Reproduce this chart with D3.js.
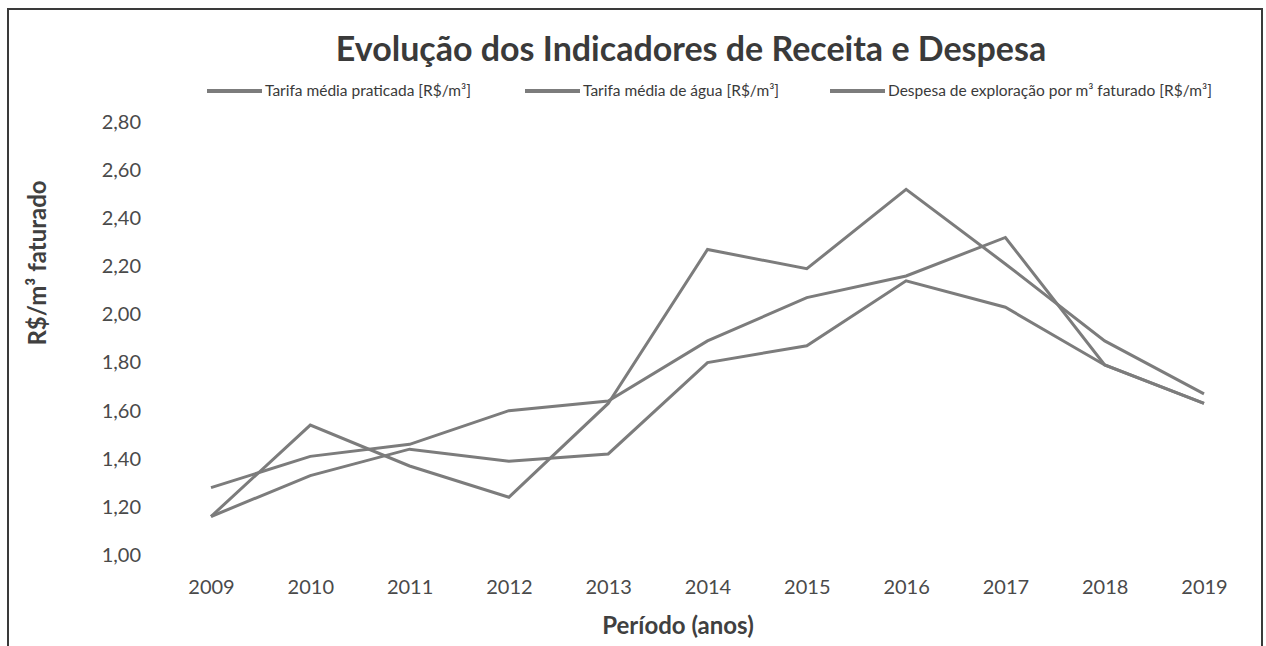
<!DOCTYPE html>
<html>
<head>
    <meta charset="utf-8" />
    <title>Evolução dos Indicadores de Receita e Despesa</title>
    <script type="text/javascript" src="https://d3js.org/d3.v7.min.js"></script>
    <style>
        body { margin: 0; background: #fff; }
        svg { display: block; font-family: Lato, "Open Sans", sans-serif; }
        .line { fill: none; stroke: #7c7c7c; stroke-width: 3px; stroke-linejoin: miter; }
        .tick text { fill: #4a4a4a; font-size: 20px; font-family: Lato, sans-serif; }
    </style>
</head>
<body>
<script type="text/javascript">
    // data
    var years = ["2009", "2010", "2011", "2012", "2013", "2014", "2015", "2016", "2017", "2018", "2019"];
    var tarifaPraticada = [1.16, 1.33, 1.44, 1.39, 1.42, 1.80, 1.87, 2.14, 2.03, 1.79, 1.63];
    var tarifaAgua = [1.28, 1.41, 1.46, 1.60, 1.64, 1.89, 2.07, 2.16, 2.32, 1.79, 1.63];
    var despesa = [1.16, 1.54, 1.37, 1.24, 1.63, 2.27, 2.19, 2.52, 2.21, 1.89, 1.67];
    var yTicks = [1.0, 1.2, 1.4, 1.6, 1.8, 2.0, 2.2, 2.4, 2.6, 2.8];
    var seriesNames = ["Tarifa média praticada [R$/m³]", "Tarifa média de água [R$/m³]", "Despesa de exploração por m³ faturado [R$/m³]"];
    var seriesValues = [tarifaPraticada, tarifaAgua, despesa];

    var width = 1266, height = 646;

    var svg = d3.select("body").append("svg")
        .attr("width", width)
        .attr("height", height);

    // outer frame (bottom edge is cut off in the original)
    svg.append("rect")
        .attr("x", 8).attr("y", 9)
        .attr("width", 1254).attr("height", 700)
        .attr("fill", "none")
        .attr("stroke", "#3a3a3a")
        .attr("stroke-width", 2);

    var x = d3.scalePoint().domain(years).range([211, 1204]);
    var y = d3.scaleLinear().domain([1.0, 2.8]).range([555, 122]);

    var fmt = function(d) { return d3.format(".2f")(d).replace(".", ","); };

    // y axis, labels only
    var yAxis = svg.append("g")
        .attr("transform", "translate(141,0)")
        .call(d3.axisLeft(y).tickValues(yTicks).tickFormat(fmt).tickSize(0).tickPadding(0));
    yAxis.select(".domain").remove();
    yAxis.attr("font-family", null).attr("font-size", null);

    // x axis, labels only
    var xAxis = svg.append("g")
        .attr("transform", "translate(0,572)")
        .call(d3.axisBottom(x).tickSize(0).tickPadding(8));
    xAxis.select(".domain").remove();
    xAxis.attr("font-family", null).attr("font-size", null);

    var line = d3.line()
        .x(function(d, i) { return x(years[i]); })
        .y(function(d) { return y(d); });

    svg.selectAll(".line")
        .data(seriesValues)
        .enter().append("path")
        .attr("class", "line")
        .attr("d", line);

    // title
    svg.append("text")
        .attr("x", 691).attr("y", 61)
        .attr("text-anchor", "middle")
        .attr("font-size", 34)
        .attr("font-weight", "bold")
        .attr("fill", "#3a3a3a")
        .text("Evolução dos Indicadores de Receita e Despesa");

    // legend
    var legendX = [207, 525, 830];
    var legend = svg.selectAll(".legend")
        .data(seriesNames)
        .enter().append("g")
        .attr("class", "legend")
        .attr("transform", function(d, i) { return "translate(" + legendX[i] + ",91)"; });
    legend.append("line")
        .attr("x1", 0).attr("x2", 55)
        .attr("stroke", "#7c7c7c")
        .attr("stroke-width", 4);
    legend.append("text")
        .attr("x", 58).attr("y", 5)
        .attr("font-size", 15.5)
        .attr("fill", "#3a3a3a")
        .text(function(d) { return d; });

    // axis titles
    svg.append("text")
        .attr("x", 678).attr("y", 634)
        .attr("text-anchor", "middle")
        .attr("font-size", 24)
        .attr("font-weight", "bold")
        .attr("fill", "#404040")
        .text("Período (anos)");

    svg.append("text")
        .attr("transform", "translate(46,263) rotate(-90)")
        .attr("text-anchor", "middle")
        .attr("font-size", 24)
        .attr("font-weight", "bold")
        .attr("fill", "#404040")
        .text("R$/m³ faturado");
</script>
</body>
</html>
